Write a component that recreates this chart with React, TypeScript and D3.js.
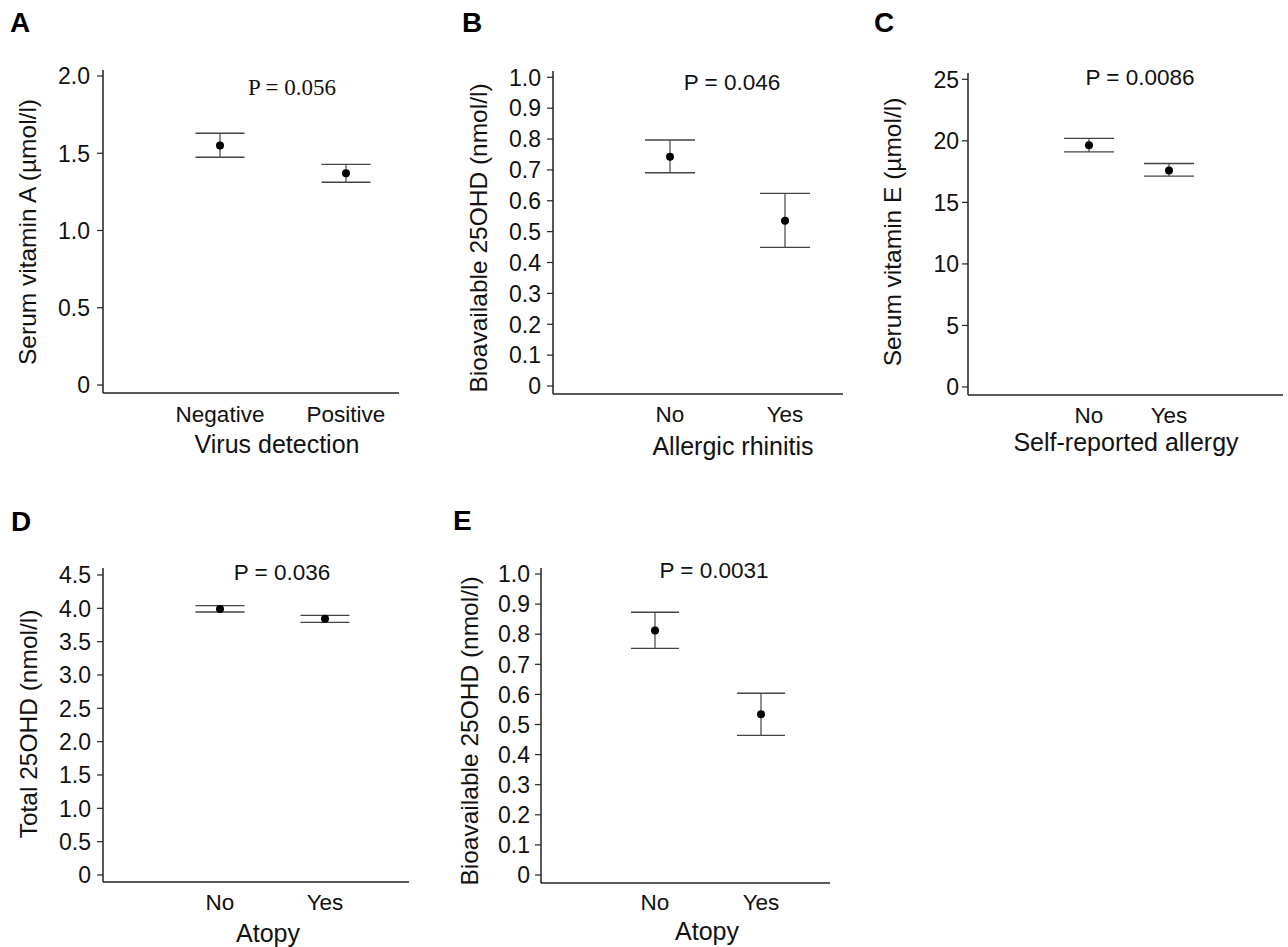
import React from "react";
import * as d3 from "d3";

// ---- Data ----
const catsA = ["Negative", "Positive"];
const meanA = [1.55, 1.37];
const lowA = [1.474, 1.312];
const highA = [1.629, 1.428];
const ticksA = [0, 0.5, 1.0, 1.5, 2.0];

const catsB = ["No", "Yes"];
const meanB = [0.743, 0.535];
const lowB = [0.691, 0.449];
const highB = [0.797, 0.624];
const ticksB = [0, 0.1, 0.2, 0.3, 0.4, 0.5, 0.6, 0.7, 0.8, 0.9, 1.0];

const catsC = ["No", "Yes"];
const meanC = [19.65, 17.6];
const lowC = [19.1, 17.13];
const highC = [20.2, 18.16];
const ticksC = [0, 5, 10, 15, 20, 25];

const catsD = ["No", "Yes"];
const meanD = [3.99, 3.845];
const lowD = [3.945, 3.79];
const highD = [4.04, 3.895];
const ticksD = [0, 0.5, 1.0, 1.5, 2.0, 2.5, 3.0, 3.5, 4.0, 4.5];

const catsE = ["No", "Yes"];
const meanE = [0.812, 0.534];
const lowE = [0.753, 0.464];
const highE = [0.873, 0.604];
const ticksE = [0, 0.1, 0.2, 0.3, 0.4, 0.5, 0.6, 0.7, 0.8, 0.9, 1.0];

const fmt1 = (v: number) => (v === 0 ? "0" : d3.format(".1f")(v));
const fmt0 = (v: number) => d3.format("d")(v);

const SANS = "'Liberation Sans', Arial, sans-serif";
const SERIF = "'Liberation Serif', 'Times New Roman', serif";

type PanelProps = {
  letter: string;
  cats: string[];
  mean: number[];
  low: number[];
  high: number[];
  ticks: number[];
  fmt: (v: number) => string;
  yTitle: string;
  xTitle: string;
  pText: string;
  pSerif?: boolean;
  L: any;
};

function Panel({ letter, cats, mean, low, high, ticks, fmt, yTitle, xTitle, pText, pSerif, L }: PanelProps) {
  const yMax = ticks[ticks.length - 1];
  const y = d3.scaleLinear().domain([0, yMax]).range([L.y0, L.yTopPx]);
  const x = d3.scalePoint<string>().domain(cats).range(L.xs).padding(0);
  return (
    <g>
      <text x={L.letter[0]} y={L.letter[1]} fontFamily={SANS} fontWeight="bold" fontSize={28} fill="#000">
        {letter}
      </text>
      {/* y axis */}
      <line x1={L.ax} x2={L.ax} y1={L.top} y2={L.xAxisY} stroke="#222" strokeWidth={1.5} />
      {ticks.map((t) => (
        <g key={t}>
          <line x1={L.ax - 6} x2={L.ax} y1={y(t)} y2={y(t)} stroke="#222" strokeWidth={1.2} />
          <text
            x={L.ax - L.tickGap}
            y={y(t)}
            dy="0.36em"
            textAnchor="end"
            fontFamily={SANS}
            fontSize={23}
            fill="#111"
          >
            {fmt(t)}
          </text>
        </g>
      ))}
      {/* x axis */}
      <line x1={L.ax} x2={L.xRight} y1={L.xAxisY} y2={L.xAxisY} stroke="#222" strokeWidth={1.5} />
      {cats.map((c) => (
        <text key={c} x={x(c)} y={L.catY} textAnchor="middle" fontFamily={SANS} fontSize={22.5} fill="#111">
          {c}
        </text>
      ))}
      <text x={L.xTitle[0]} y={L.xTitle[1]} textAnchor="middle" fontFamily={SANS} fontSize={25} fill="#111">
        {xTitle}
      </text>
      <text
        transform={`translate(${L.yTitle[0]},${L.yTitle[1]}) rotate(-90)`}
        textAnchor="middle"
        dy="0.35em"
        fontFamily={SANS}
        fontSize={24.5}
        fill="#111"
      >
        {yTitle}
      </text>
      <text
        x={L.p[0]}
        y={L.p[1]}
        textAnchor="middle"
        fontFamily={pSerif ? SERIF : SANS}
        fontSize={pSerif ? 23 : 22.5}
        fill="#111"
      >
        {pText}
      </text>
      {/* error bars */}
      {cats.map((c, i) => {
        const cx = x(c) as number;
        return (
          <g key={c}>
            <line x1={cx} x2={cx} y1={y(high[i])} y2={y(low[i])} stroke="#444" strokeWidth={1.2} />
            <line x1={cx - L.cap} x2={cx + L.cap} y1={y(high[i])} y2={y(high[i])} stroke="#444" strokeWidth={1.4} />
            <line x1={cx - L.cap} x2={cx + L.cap} y1={y(low[i])} y2={y(low[i])} stroke="#444" strokeWidth={1.4} />
            <circle cx={cx} cy={y(mean[i])} r={4} fill="#000" />
          </g>
        );
      })}
    </g>
  );
}

export default function App() {
  const LA = { ax: 103, top: 70, y0: 385, yTopPx: 76, xAxisY: 393, xRight: 399, xs: [220, 346], cap: 24.5, p: [292, 95], catY: 422, xTitle: [277, 453], yTitle: [27, 232], letter: [10, 32], tickGap: 13 };
  const LB = { ax: 553, top: 71, y0: 386, yTopPx: 77.3, xAxisY: 394, xRight: 843, xs: [670, 785], cap: 25, p: [732, 90], catY: 422, xTitle: [733, 455], yTitle: [478, 238], letter: [462, 32], tickGap: 12 };
  const LC = { ax: 968, top: 73, y0: 387, yTopPx: 79.3, xAxisY: 395, xRight: 1283, xs: [1089, 1169], cap: 25, p: [1140, 85], catY: 423, xTitle: [1126, 451], yTitle: [892, 232], letter: [874, 32], tickGap: 9 };
  const LD = { ax: 103, top: 568, y0: 875, yTopPx: 575, xAxisY: 882, xRight: 409, xs: [220, 325], cap: 24.5, p: [282, 580], catY: 910, xTitle: [268, 942], yTitle: [28, 724], letter: [11, 531], tickGap: 12 };
  const LE = { ax: 541, top: 568, y0: 875, yTopPx: 574, xAxisY: 883, xRight: 830, xs: [655, 761], cap: 24, p: [714, 578], catY: 910, xTitle: [707, 940], yTitle: [469, 731], letter: [453, 530], tickGap: 11 };
  return (
    <svg width={1288} height={947} style={{ position: "absolute", left: 0, top: 0, background: "#fff" }}>
      <rect width={1288} height={947} fill="#fff" />
      <Panel letter="A" cats={catsA} mean={meanA} low={lowA} high={highA} ticks={ticksA} fmt={fmt1}
        yTitle="Serum vitamin A (µmol/l)" xTitle="Virus detection" pText="P = 0.056" pSerif L={LA} />
      <Panel letter="B" cats={catsB} mean={meanB} low={lowB} high={highB} ticks={ticksB} fmt={fmt1}
        yTitle="Bioavailable 25OHD (nmol/l)" xTitle="Allergic rhinitis" pText="P = 0.046" L={LB} />
      <Panel letter="C" cats={catsC} mean={meanC} low={lowC} high={highC} ticks={ticksC} fmt={fmt0}
        yTitle="Serum vitamin E (µmol/l)" xTitle="Self-reported allergy" pText="P = 0.0086" L={LC} />
      <Panel letter="D" cats={catsD} mean={meanD} low={lowD} high={highD} ticks={ticksD} fmt={fmt1}
        yTitle="Total 25OHD (nmol/l)" xTitle="Atopy" pText="P = 0.036" L={LD} />
      <Panel letter="E" cats={catsE} mean={meanE} low={lowE} high={highE} ticks={ticksE} fmt={fmt1}
        yTitle="Bioavailable 25OHD (nmol/l)" xTitle="Atopy" pText="P = 0.0031" L={LE} />
    </svg>
  );
}
